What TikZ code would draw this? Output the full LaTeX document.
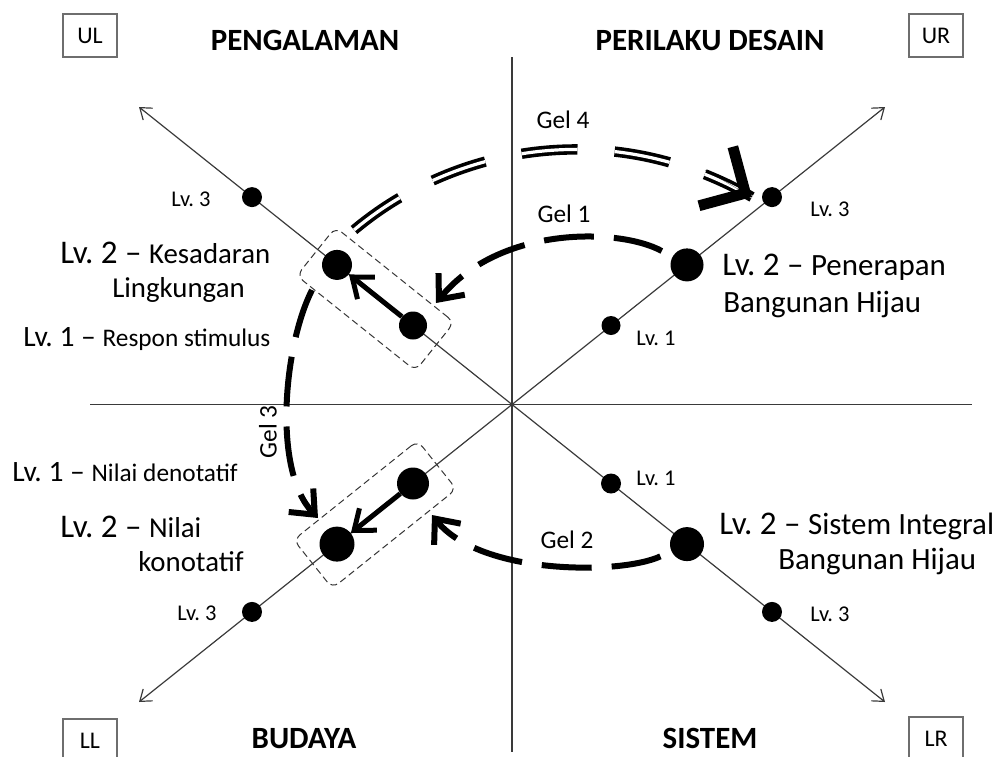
\documentclass[tikz,border=0pt]{standalone}
\usepackage{fontspec}
\setmainfont{Carlito}
\usepackage{tikz}
\usetikzlibrary{arrows.meta,positioning}
\definecolor{axisgrey}{HTML}{3A3A3A}
\definecolor{framegrey}{HTML}{6E6E6E}
\newcommand{\lvtwo}{\fontsize{23.5}{27}\selectfont}
\newcommand{\lvone}{\fontsize{21}{25}\selectfont}
\newcommand{\descl}{\fontsize{20.5}{24}\selectfont}
\newcommand{\descr}{\fontsize{22}{26}\selectfont}
\newcommand{\descs}{\fontsize{18}{22}\selectfont}
\frenchspacing

\begin{document}
\begin{tikzpicture}[x=0.025cm, y=-0.025cm, every node/.style={inner sep=0pt},
  dot/.style={circle, fill=black, minimum size=#1*0.5mm},
  axisline/.style={draw=axisgrey, line width=0.3mm},
  diag/.style={axisline, {Straight Barb[length=2.6mm,width=3.8mm]}-{Straight Barb[length=2.6mm,width=3.8mm]}},
  selbox/.style={draw=black!80, dash pattern=on 1.7mm off 1mm, line width=0.25mm, rounded corners=2mm, minimum height=15.5mm},
  lvarrow/.style={line width=1.25mm, -{Straight Barb[length=4.5mm,width=7mm]}},
  gel/.style={line width=1.5mm, dash pattern=on 12.5mm off 5mm, -{Straight Barb[length=5mm,width=8.5mm]}},
  gelfour/.style={double, line width=0.9mm, double distance=0.8mm, dash pattern=on 14mm off 9.3mm},
  gelfourtip/.style={line width=0.1pt, -{Straight Barb[length=8.5mm,width=17mm,line width'=2.7mm]}},
  title/.style={font=\fontsize{22}{26}\selectfont\bfseries},
  lvsmall/.style={font=\fontsize{16}{19}\selectfont},
  gellab/.style={font=\fontsize{18}{22}\selectfont},
  corner/.style={draw=framegrey, line width=0.3mm, minimum width=13.5mm, minimum height=10.75mm, font=\fontsize{17}{20}\selectfont}]
\useasboundingbox (0,0) rectangle (1003,756);

\coordinate (vtop) at (512,57); \coordinate (vbot) at (512,752);
\coordinate (hl) at (90,404.5); \coordinate (hr) at (972,404.5);
\coordinate (ularr) at (139,107); \coordinate (lrarr) at (885,702);
\coordinate (llarr) at (139,702); \coordinate (urarr) at (885,107);
\draw[axisline] (vtop) -- (vbot);
\draw[axisline] (hl) -- (hr);
\draw[diag] (ularr) -- (lrarr);
\draw[diag] (llarr) -- (urarr);

\foreach \q/\sx/\sy/\ra/\rb/\rc in {ul/-1/-1/14/15/10, ur/1/-1/9.5/16.5/10, ll/-1/1/16/17.5/10, lr/1/1/10/17/10}{
  \node[dot=\ra] (\q1) at ({512+(\sx)*99},{404.5+(\sy)*79}) {};
  \node[dot=\rb] (\q2) at ({512+(\sx)*175},{404.5+(\sy)*139.6}) {};
  \node[dot=\rc] (\q3) at ({512+(\sx)*260},{404.5+(\sy)*207.4}) {};
}

\node[selbox, rotate=-38.66, minimum width=38mm] (ulbox) at (375.5,299) {};
\node[selbox, rotate=38.66, minimum width=39.7mm] (llbox) at (375,514.5) {};

\draw[lvarrow] (ul1) -- (ul2);
\draw[lvarrow] (ll1) -- (ll2);

\coordinate (g1end) at (436,303);
\coordinate (g2end) at (432,515);
\coordinate (g3start) at (312,290); \coordinate (g3end) at (318,518);
\coordinate (g4start) at (354,230); \coordinate (g4end) at (752,197);
\coordinate (g4pre) at (705,170);
\draw[gel, shorten <=3mm] (ur2) .. controls (620,228) and (500,225) .. (g1end);
\draw[gel, shorten <=3mm] (lr2) .. controls (620,575) and (480,575) .. (g2end);
\draw[gel] (g3start) .. controls (284,345) and (272,470) .. (g3end);
\draw[gelfour] (g4start) .. controls (454,146) and (610,116) .. (g4end);
\draw[gelfourtip] (g4pre) -- (g4end);

\node[gellab, anchor=base] (gel4lab) at (563,128) {Gel 4};
\node[gellab, anchor=base] (gel1lab) at (564,222) {Gel 1};
\node[gellab, anchor=base] (gel2lab) at (567,548) {Gel 2};
\node[gellab, rotate=90] (gel3lab) at (268,432) {Gel 3};

\node[title, anchor=base] (pengalaman) at (305,50) {PENGALAMAN};
\node[title, anchor=base] (perilaku) at (710,50) {PERILAKU DESAIN};
\node[title, anchor=base] (budaya) at (304,748) {BUDAYA};
\node[title, anchor=base] (sistem) at (710,748) {SISTEM};

\node[corner] (ulc) at (90,35.5) {UL};
\node[corner] (urc) at (936,35.5) {UR};
\node[corner] (llc) at (90,740.5) {LL};
\node[corner] (lrc) at (936,738.5) {LR};

\node[lvsmall, anchor=base] (ul3lab) at (191,206) {Lv. 3};
\node[lvsmall, anchor=base] (ur3lab) at (830,216) {Lv. 3};
\node[lvsmall, anchor=base] (ur1lab) at (656,345) {Lv. 1};
\node[lvsmall, anchor=base] (ll3lab) at (197,620) {Lv. 3};
\node[lvsmall, anchor=base] (lr1lab) at (656,485) {Lv. 1};
\node[lvsmall, anchor=base] (lr3lab) at (830,621) {Lv. 3};

\node[anchor=base west] (ul2a) at (60,263) {\lvtwo Lv. 2 – \descl Kesadaran};
\node[anchor=base west] (ul2b) at (112,297) {\descl Lingkungan};
\node[anchor=base west] (ul1a) at (23,346) {\lvone Lv. 1 – \descs Respon stimulus};
\node[anchor=base west] (ur2a) at (722,275) {\lvtwo Lv. 2 – \descr Penerapan};
\node[anchor=base west] (ur2b) at (723,312) {\descr Bangunan Hijau};
\node[anchor=base west] (ll1a) at (12,481) {\lvone Lv. 1 – \descs Nilai denotatif};
\node[anchor=base west] (ll2a) at (60,537) {\lvtwo Lv. 2 – \descl Nilai};
\node[anchor=base west] (ll2b) at (138,571) {\descl konotatif};
\node[anchor=base west] (lr2a) at (719,534) {\lvtwo Lv. 2 – \descr Sistem Integral};
\node[anchor=base west] (lr2b) at (778,569) {\descr Bangunan Hijau};
\end{tikzpicture}
\end{document}
